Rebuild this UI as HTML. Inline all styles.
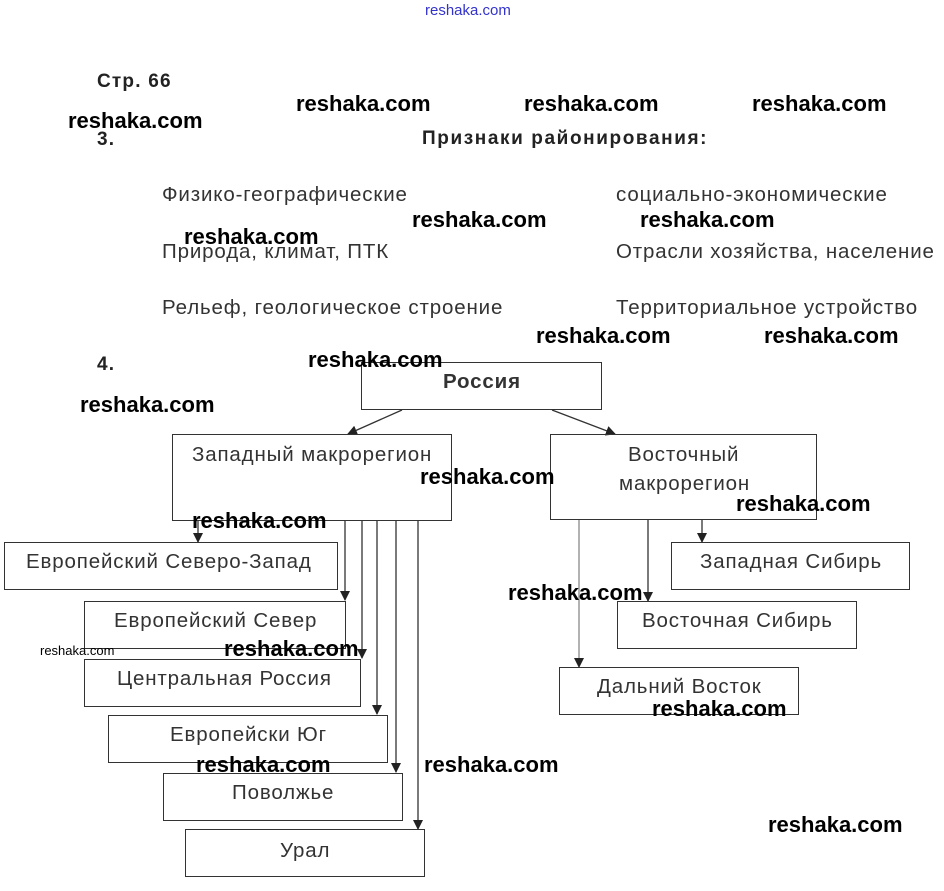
<!DOCTYPE html>
<html><head><meta charset="utf-8"><style>
body{margin:0;width:944px;height:891px;background:#fff;position:relative;overflow:hidden;font-family:"Liberation Sans",Arial,sans-serif;}
.t{position:absolute;white-space:nowrap;line-height:1;color:#333;font-size:20.5px;letter-spacing:0.85px;}
.b{font-weight:bold;color:#222;font-size:19px;letter-spacing:1.2px;}
.w{position:absolute;white-space:nowrap;line-height:1;font-weight:bold;font-size:22px;color:#000;}
.bx{position:absolute;border:1.3px solid #333;box-sizing:border-box;background:transparent;}
.bl{position:absolute;white-space:nowrap;line-height:1;color:#333;font-size:20.5px;letter-spacing:0.85px;}
</style></head><body>
<svg width="944" height="891" style="position:absolute;left:0;top:0">
<defs><marker id="a" markerWidth="10" markerHeight="10" refX="9" refY="5" orient="auto" markerUnits="userSpaceOnUse"><path d="M0,0 L10,5 L0,10 z" fill="#222"/></marker></defs>
<g stroke="#333" stroke-width="1.3" fill="none">
<line x1="402" y1="410" x2="348" y2="434" marker-end="url(#a)"/>
<line x1="552" y1="410" x2="615" y2="434" marker-end="url(#a)"/>
<line x1="198" y1="521" x2="198" y2="542" marker-end="url(#a)"/>
<line x1="345" y1="521" x2="345" y2="600" marker-end="url(#a)"/>
<line x1="362" y1="521" x2="362" y2="658" marker-end="url(#a)"/>
<line x1="377" y1="521" x2="377" y2="714" marker-end="url(#a)"/>
<line x1="396" y1="521" x2="396" y2="772" marker-end="url(#a)"/>
<line x1="418" y1="521" x2="418" y2="829" marker-end="url(#a)"/>
<line x1="702" y1="520" x2="702" y2="542" marker-end="url(#a)"/>
<line x1="648" y1="520" x2="648" y2="601" marker-end="url(#a)"/>
<line x1="579" y1="520" x2="579" y2="667" stroke="#888" marker-end="url(#a)"/>
</g></svg>

<div class="bx" style="left:361px;top:362px;width:241px;height:48px"></div>
<div class="bx" style="left:172px;top:434px;width:280px;height:87px"></div>
<div class="bx" style="left:550px;top:434px;width:267px;height:86px"></div>
<div class="bx" style="left:4px;top:542px;width:334px;height:48px"></div>
<div class="bx" style="left:84px;top:601px;width:262px;height:48px"></div>
<div class="bx" style="left:84px;top:659px;width:277px;height:48px"></div>
<div class="bx" style="left:108px;top:715px;width:280px;height:48px"></div>
<div class="bx" style="left:163px;top:773px;width:240px;height:48px"></div>
<div class="bx" style="left:185px;top:829px;width:240px;height:48px"></div>
<div class="bx" style="left:671px;top:542px;width:239px;height:48px"></div>
<div class="bx" style="left:617px;top:601px;width:240px;height:48px"></div>
<div class="bx" style="left:559px;top:667px;width:240px;height:48px"></div>

<div class="bl b" style="left:443px;top:372px">Россия</div>
<div class="bl" style="left:192px;top:445px">Западный макрорегион</div>
<div class="bl" style="left:628px;top:445px">Восточный</div>
<div class="bl" style="left:619px;top:474px">макрорегион</div>
<div class="bl" style="left:26px;top:552px">Европейский Северо-Запад</div>
<div class="bl" style="left:114px;top:611px">Европейский Север</div>
<div class="bl" style="left:117px;top:669px">Центральная Россия</div>
<div class="bl" style="left:170px;top:725px">Европейски Юг</div>
<div class="bl" style="left:232px;top:783px">Поволжье</div>
<div class="bl" style="left:280px;top:841px">Урал</div>
<div class="bl" style="left:700px;top:552px">Западная Сибирь</div>
<div class="bl" style="left:642px;top:611px">Восточная Сибирь</div>
<div class="bl" style="left:597px;top:677px">Дальний Восток</div>

<div class="t" style="left:425px;top:3px;font-size:15px;letter-spacing:0;color:#33c;">reshaka.com</div>
<div class="t b" style="left:97px;top:72px">Стр. 66</div>
<div class="t b" style="left:97px;top:130px">3.</div>
<div class="t b" style="left:422px;top:129px;letter-spacing:1.6px">Признаки районирования:</div>
<div class="t" style="left:162px;top:185px">Физико-географические</div>
<div class="t" style="left:616px;top:185px">социально-экономические</div>
<div class="t" style="left:162px;top:242px">Природа, климат, ПТК</div>
<div class="t" style="left:616px;top:242px">Отрасли хозяйства, население</div>
<div class="t" style="left:162px;top:298px">Рельеф, геологическое строение</div>
<div class="t" style="left:616px;top:298px">Территориальное устройство</div>
<div class="t b" style="left:97px;top:355px">4.</div>

<div class="w" style="left:296px;top:93px">reshaka.com</div>
<div class="w" style="left:524px;top:93px">reshaka.com</div>
<div class="w" style="left:752px;top:93px">reshaka.com</div>
<div class="w" style="left:68px;top:110px">reshaka.com</div>
<div class="w" style="left:412px;top:209px">reshaka.com</div>
<div class="w" style="left:640px;top:209px">reshaka.com</div>
<div class="w" style="left:184px;top:226px">reshaka.com</div>
<div class="w" style="left:536px;top:325px">reshaka.com</div>
<div class="w" style="left:764px;top:325px">reshaka.com</div>
<div class="w" style="left:308px;top:349px">reshaka.com</div>
<div class="w" style="left:80px;top:394px">reshaka.com</div>
<div class="w" style="left:420px;top:466px">reshaka.com</div>
<div class="w" style="left:736px;top:493px">reshaka.com</div>
<div class="w" style="left:192px;top:510px">reshaka.com</div>
<div class="w" style="left:508px;top:582px">reshaka.com</div>
<div class="w" style="left:40px;top:644px;font-size:13px;font-weight:normal">reshaka.com</div>
<div class="w" style="left:224px;top:638px">reshaka.com</div>
<div class="w" style="left:652px;top:698px">reshaka.com</div>
<div class="w" style="left:196px;top:754px">reshaka.com</div>
<div class="w" style="left:424px;top:754px">reshaka.com</div>
<div class="w" style="left:768px;top:814px">reshaka.com</div>
</body></html>
